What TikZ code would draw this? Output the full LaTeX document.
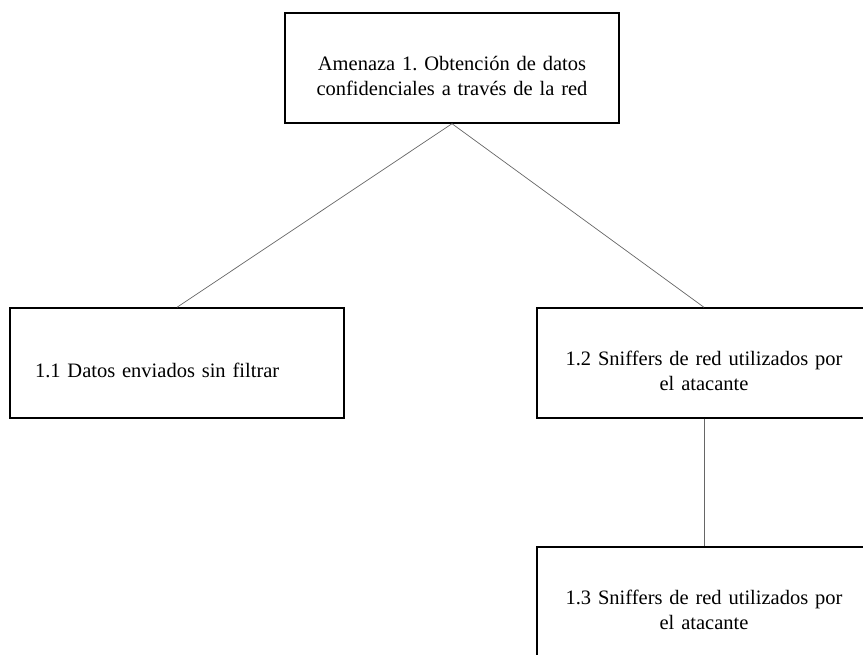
\documentclass[tikz,border=0pt]{standalone}
\usepackage{fontspec}
\setmainfont{Liberation Serif}
\frenchspacing

\tikzset{
  caja/.style={draw, line width=1.4pt, minimum width=334pt, minimum height=110pt,
    text width=290pt, inner xsep=22pt, inner ysep=0pt, align=center,
    font=\fontsize{20.5}{25}\selectfont, bajar=30pt},
  bajar/.style={execute at begin node={\rule{0pt}{#1}}},
  rama/.style={draw=black!60, line width=0.7pt}
}

\begin{document}
\begin{tikzpicture}[x=1pt,y=-1pt]
\useasboundingbox (0,0) rectangle (863,654);
\clip (0,0) rectangle (863,654);

\node[caja, bajar=24pt] (amenaza) at (452,68) {Amenaza 1. Obtención de datos\\ confidenciales a través de la red};

\node[caja, align=left] (datos) at (177,363) {\hspace{3pt}1.1 Datos enviados sin filtrar};

\node[caja] (sniffers) at (704,363) {1.2 Sniffers de red utilizados por\\ el atacante};

\node[caja] (sniffersb) at (704,602) {1.3 Sniffers de red utilizados por\\ el atacante};

\draw[rama] (amenaza.south) -- (datos.north);
\draw[rama] (amenaza.south) -- (sniffers.north);
\draw[rama] (sniffers.south) -- (sniffersb.north);
\end{tikzpicture}
\end{document}
